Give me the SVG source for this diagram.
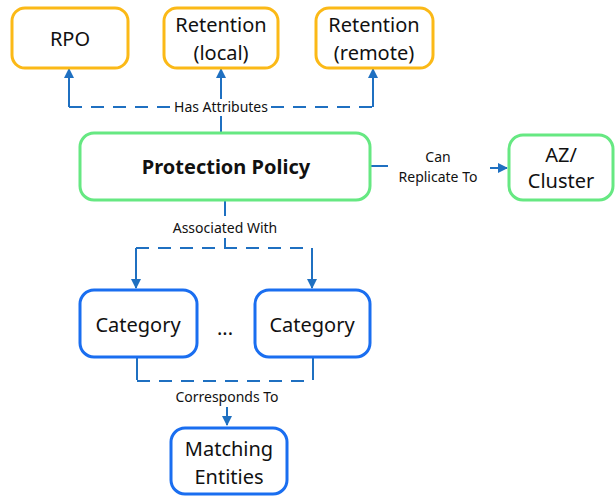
<svg xmlns="http://www.w3.org/2000/svg" width="616" height="497" viewBox="0 0 616 497">
<defs>
<marker id="ah" viewBox="0 0 10 10" refX="9" refY="5" markerWidth="10" markerHeight="10" markerUnits="userSpaceOnUse" orient="auto">
<path d="M0,0 L10,5 L0,10 Z" fill="#1F70C1"/>
</marker>
<style>
.box{fill:#fff;stroke-width:3}
.or{stroke:#FBB917}
.gr{stroke:#66E882}
.bl{stroke:#1A6EF0}
.t{font-family:"Noto Sans","Liberation Sans",sans-serif;font-size:20px;fill:#111;text-anchor:middle;dominant-baseline:central}
.b{font-weight:bold}
.l{font-family:"Noto Sans","Liberation Sans",sans-serif;font-size:14px;fill:#111;text-anchor:middle;dominant-baseline:central}
.c{fill:none;stroke:#1F70C1;stroke-width:2}
.d{stroke-dasharray:13 9}
</style>
</defs>
<g id="connectors">
<path class="c d" d="M69,107 H171"/>
<path class="c d" d="M271,107 H373"/>
<path class="c" d="M69,107 V69" marker-end="url(#ah)"/>
<path class="c" d="M221,133 V116"/>
<path class="c" d="M221,99 V69" marker-end="url(#ah)"/>
<path class="c" d="M373,107 V69" marker-end="url(#ah)"/>
<path class="c" d="M370,166 H388"/>
<path class="c" d="M490,168 H507" marker-end="url(#ah)"/>
<path class="c" d="M225,200 V216"/>
<path class="c" d="M225,238 V248"/>
<path class="c d" d="M136,248 H312"/>
<path class="c" d="M136,248 V288" marker-end="url(#ah)"/>
<path class="c" d="M312,248 V288" marker-end="url(#ah)"/>
<path class="c" d="M137,358 V380"/>
<path class="c" d="M313,358 V380"/>
<path class="c d" d="M137,381 H313"/>
<path class="c" d="M227,407 V425" marker-end="url(#ah)"/>
<text class="l" x="221" y="106">Has Attributes</text>
<text class="l" x="438" y="156">Can</text>
<text class="l" x="438" y="176">Replicate To</text>
<text class="l" x="225" y="227">Associated With</text>
<text class="l" x="227" y="396">Corresponds To</text>
</g>
<g id="rpo"><rect class="box or" x="12" y="8" width="116" height="60" rx="13"/><text class="t" x="70" y="38">RPO</text></g>
<g id="ret-local"><rect class="box or" x="164" y="8" width="114" height="60" rx="13"/><text class="t" x="221" y="24">Retention</text><text class="t" x="221" y="52">(local)</text></g>
<g id="ret-remote"><rect class="box or" x="316" y="8" width="117" height="60" rx="13"/><text class="t" x="374" y="24">Retention</text><text class="t" x="374" y="52">(remote)</text></g>
<g id="policy"><rect class="box gr" x="80" y="133" width="290" height="67" rx="14"/><text class="t b" x="226" y="166">Protection Policy</text></g>
<g id="az"><rect class="box gr" x="509" y="135" width="104" height="65" rx="14"/><text class="t" x="561" y="154">AZ/</text><text class="t" x="561" y="180">Cluster</text></g>
<g id="cat1"><rect class="box bl" x="80" y="290" width="117" height="67" rx="14"/><text class="t" x="138" y="324">Category</text></g>
<g id="dots"><text class="t" x="225" y="327">...</text></g>
<g id="cat2"><rect class="box bl" x="255" y="290" width="115" height="67" rx="14"/><text class="t" x="312" y="324">Category</text></g>
<g id="entities"><rect class="box bl" x="171" y="428" width="116" height="66" rx="14"/><text class="t" x="229" y="448">Matching</text><text class="t" x="229" y="476">Entities</text></g>
</svg>
